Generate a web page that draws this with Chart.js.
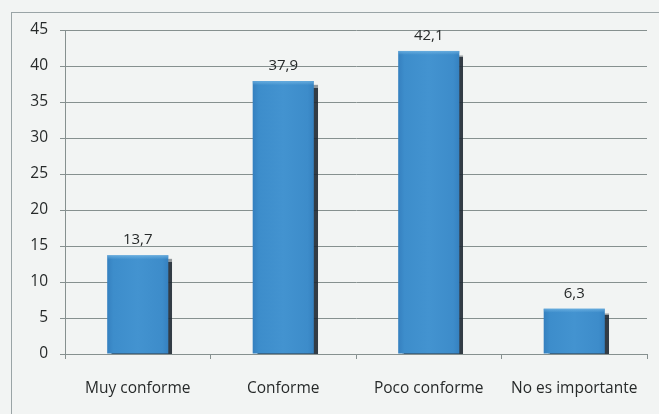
<!DOCTYPE html>
<html>
<head>
<meta charset="utf-8">
<script src="https://cdn.jsdelivr.net/npm/chart.js@4/dist/chart.umd.min.js"></script>
<style>
  html, body { margin: 0; padding: 0; background: #f2f4f3; }
  #wrap { width: 659px; height: 414px; position: relative; }
</style>
</head>
<body>
<div id="wrap"><canvas id="c" width="659" height="414"></canvas></div>
<script>
// Survey answers and their percentages
const categories = ['Muy conforme', 'Conforme', 'Poco conforme', 'No es importante'];
const values = [13.7, 37.9, 42.1, 6.3];
const yTicks = [0, 5, 10, 15, 20, 25, 30, 35, 40, 45];

const textColor = '#272a2a';
const gridColor = '#86908f';
const fontFamily = '"Open Sans", "Noto Sans", sans-serif';

const BAR_PCT = 0.42;

// Horizontal shading across each bar, built from the x scale geometry
function barFill(ctx) {
  const chart = ctx.chart;
  const xs = chart.scales.x;
  if (!xs || ctx.dataIndex === undefined) return '#3f8fcc';
  const cx = xs.getPixelForValue(ctx.dataIndex);
  const catW = (xs.right - xs.left) / categories.length;
  const w = catW * BAR_PCT;
  if (!isFinite(cx) || !isFinite(w) || w <= 0) return '#3f8fcc';
  const g = chart.ctx.createLinearGradient(cx - w / 2, 0, cx + w / 2, 0);
  g.addColorStop(0, '#3580bf');
  g.addColorStop(0.1, '#3d8dcb');
  g.addColorStop(0.5, '#4393d0');
  g.addColorStop(0.9, '#3d8cca');
  g.addColorStop(1, '#3581c0');
  return g;
}

// Outer frame around the chart block
const framePlugin = {
  id: 'frame',
  beforeDraw(chart) {
    const c = chart.ctx;
    c.save();
    c.strokeStyle = '#9aa4a6';
    c.lineWidth = 1;
    c.strokeRect(11.5, 12.5, 700, 500);
    c.restore();
  }
};

// Drop shadow under the bars
const shadowPlugin = {
  id: 'barShadow',
  beforeDatasetDraw(chart) {
    const c = chart.ctx;
    c.save();
    c.shadowColor = 'rgba(30,40,50,0.9)';
    c.shadowOffsetX = 4;
    c.shadowOffsetY = 4;
    c.shadowBlur = 1;
  },
  afterDatasetDraw(chart) {
    chart.ctx.restore();
  }
};

// Soft light top edge on each bar plus the value label above it
const labelPlugin = {
  id: 'valueLabels',
  afterDatasetsDraw(chart) {
    const c = chart.ctx;
    const meta = chart.getDatasetMeta(0);
    c.save();
    meta.data.forEach((el, i) => {
      const left = el.x - el.width / 2;
      const g = c.createLinearGradient(0, el.y, 0, el.y + 4);
      g.addColorStop(0, 'rgba(120,185,230,0.7)');
      g.addColorStop(1, 'rgba(120,185,230,0)');
      c.fillStyle = g;
      c.fillRect(left, el.y, el.width, 4);
      c.fillStyle = textColor;
      c.font = '15px ' + fontFamily;
      c.textAlign = 'center';
      c.textBaseline = 'alphabetic';
      c.fillText(values[i].toFixed(1).replace('.', ','), el.x, el.y - 11);
    });
    c.restore();
  }
};

new Chart(document.getElementById('c'), {
  type: 'bar',
  data: {
    labels: categories,
    datasets: [{
      data: values,
      backgroundColor: barFill,
      borderWidth: 0,
      categoryPercentage: 1,
      barPercentage: BAR_PCT
    }]
  },
  options: {
    responsive: false,
    animation: false,
    events: [],
    layout: { padding: { top: 30, right: 12, left: 0, bottom: 0 } },
    plugins: { legend: { display: false }, tooltip: { enabled: false } },
    scales: {
      x: {
        offset: true,
        afterFit(s) { s.height = 60; },
        grid: {
          offset: true,
          drawOnChartArea: false,
          drawTicks: true,
          tickLength: 5,
          color: gridColor
        },
        border: { color: gridColor, width: 1 },
        ticks: {
          color: textColor,
          padding: 20,
          maxRotation: 0,
          font: { family: fontFamily, size: 15.5 }
        }
      },
      y: {
        min: 0,
        max: 45,
        afterFit(s) { s.width = 65; },
        afterBuildTicks(s) { s.ticks = yTicks.map(v => ({ value: v })); },
        grid: {
          color: gridColor,
          lineWidth: 1,
          drawTicks: true,
          tickLength: 5
        },
        border: { color: gridColor, width: 1 },
        ticks: {
          color: textColor,
          padding: 12,
          font: { family: fontFamily, size: 15.5 }
        }
      }
    }
  },
  plugins: [framePlugin, shadowPlugin, labelPlugin]
});
</script>
</body>
</html>
